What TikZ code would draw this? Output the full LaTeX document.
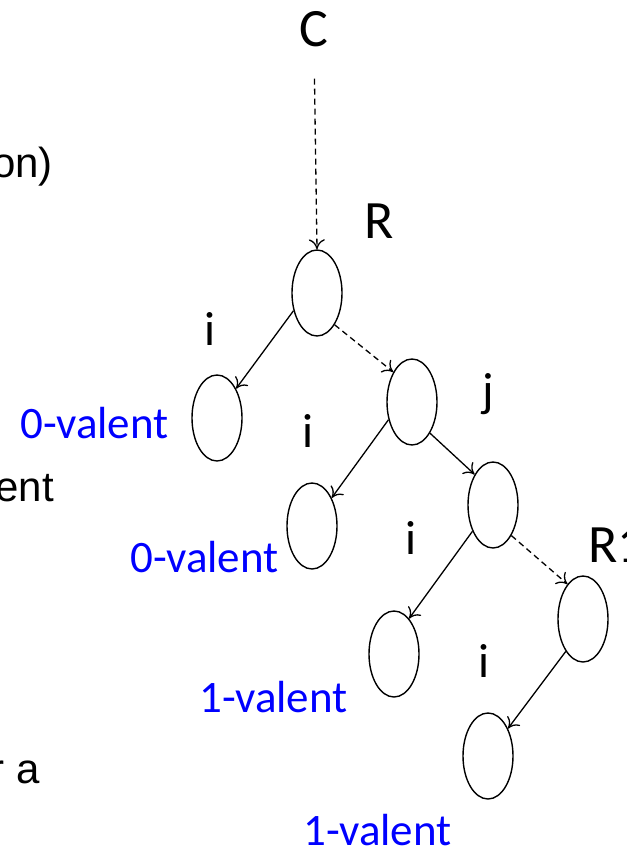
\documentclass[tikz,border=0pt]{standalone}
\usepackage{fontspec}
\setmainfont{Carlito}
\newfontfamily\sidefont{Liberation Sans}
\usetikzlibrary{arrows.meta,shapes.geometric}
\definecolor{valblue}{RGB}{0,0,255}
\begin{document}
\begin{tikzpicture}[x=1pt,y=-1pt,
  state/.style={ellipse,draw,line width=1.4pt,minimum width=50pt,minimum height=86pt,inner sep=0pt},
  edge/.style={line width=1.3pt,-{To[length=10pt,width=16pt,line width=1.3pt]}},
  skip/.style={edge,dash pattern=on 6pt off 4pt},
  big/.style={inner sep=0pt,font=\fontsize{54}{60}\selectfont},
  proc/.style={inner sep=0pt,font=\fontsize{48}{56}\selectfont},
  val/.style={inner sep=0pt,anchor=base west,text=valblue,font=\fontsize{45}{50}\selectfont},
  side/.style={inner sep=0pt,anchor=base east,font=\sidefont\fontsize{42}{48}\selectfont}]
\useasboundingbox (0,0) rectangle (626,848);
\clip (0,0) rectangle (626,848);

% text cut off at the left edge
\node[side] (s1) at (53,177) {on)};
\node[side] (s2) at (54,501) {ent};
\node[side] (s3) at (40,783) {r a};

% configurations
\node[state] (E1) at (317,293) {};
\node[state] (E2) at (217,418) {};
\node[state] (E3) at (412,402) {};
\node[state] (E4) at (312,526) {};
\node[state] (E5) at (493,505) {};
\node[state] (E6) at (394,654) {};
\node[state] (E7) at (583,619) {};
\node[state] (E8) at (488,756) {};

% names
\node[big,anchor=base] (C) at (314,47) {C};
\node[big,anchor=base west] (R) at (364,238) {R};
\node[big,anchor=base west] (R1) at (588,562) {R1};

% steps
\node[proc,anchor=base] (i1) at (210,345) {i};
\node[proc,anchor=base] (j1) at (488,406) {j};
\node[proc,anchor=base] (i2) at (308,447) {i};
\node[proc,anchor=base] (i3) at (411,554) {i};
\node[proc,anchor=base] (i4) at (484,677) {i};

% valences
\node[val] (v1) at (20,438) {0-valent};
\node[val] (v2) at (130,572) {0-valent};
\node[val] (v3) at (199,712) {1-valent};
\node[val] (v4) at (303,845) {1-valent};

% transitions
\draw[skip,shorten <=31pt] (C.south) -- (E1.north);
\draw[edge] (E1.217) -- (E2.57);
\draw[skip] (E1.-61) -- (E3.122);
\draw[edge] (E3.217) -- (E4.55);
\draw[edge] (E3.-60) -- (E5.121);
\draw[edge] (E5.232) -- (E6.67);
\draw[skip] (E5.-59) -- (E7.114);
\draw[edge] (E7.242) -- (E8.54);
\end{tikzpicture}
\end{document}
